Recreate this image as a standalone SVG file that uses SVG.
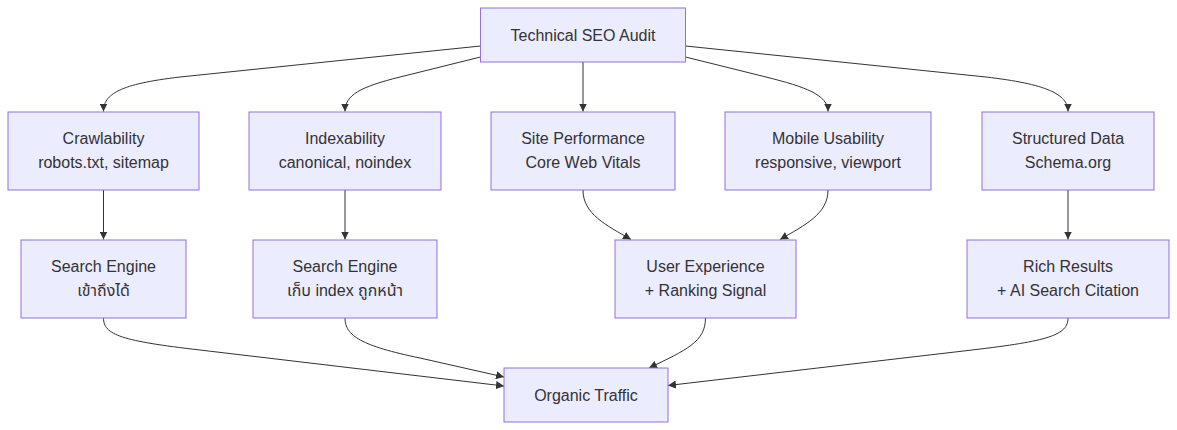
<svg xmlns="http://www.w3.org/2000/svg" width="1177" height="430" viewBox="0 0 1177 430">
<style>
.node rect{fill:#ECECFF;stroke:#9370DB;stroke-width:1}
.node text{font-family:"Liberation Sans",Arial,"Noto Sans","Noto Sans Thai",sans-serif;font-size:16px;fill:#333;text-anchor:middle}
.edges path{fill:none;stroke:#333;stroke-width:1;marker-end:url(#arrow)}
</style>
<defs>
<marker id="arrow" viewBox="0 0 10 10" refX="10" refY="5" markerWidth="8" markerHeight="8" markerUnits="userSpaceOnUse" orient="auto">
<path d="M0,0 L10,5 L0,10 z" fill="#333"/>
</marker>
</defs>
<rect width="1177" height="430" fill="#fff"/>
<g class="edges">
<path d="M480.5,46 L180,77 C120,84 103.5,94 103.5,111.5"/>
<path d="M480.5,57 L400,77 C360,87 345,95 345,111.5"/>
<path d="M583,62 L583,111.5"/>
<path d="M685.5,57 L766,77 C806,87 828,95 828,111.5"/>
<path d="M685.5,46 L986,77 C1046,84 1068,94 1068,111.5"/>
<path d="M103.5,190 L103.5,239.5"/>
<path d="M345,190 L345,239.5"/>
<path d="M583,190 C583,214 606,225 631,239.5"/>
<path d="M828,190 C828,214 805,225 780,239.5"/>
<path d="M1068,190 L1068,239.5"/>
<path d="M103.5,318 C103.5,335 122,341 200,350 L504,386"/>
<path d="M345,318 C345,336 362,346 420,358 L504,377"/>
<path d="M705.5,318 C705.5,342 686,350 649,368"/>
<path d="M1068,318 C1068,335 1049,341 972,350 L668,385.5"/>
</g>
<g id="audit" class="node"><rect x="480.5" y="8" width="205" height="54"/><text x="583" y="40.5">Technical SEO Audit</text></g>
<g id="crawl" class="node"><rect x="8" y="112" width="191" height="78"/><text x="103.5" y="144">Crawlability</text><text x="103.5" y="168">robots.txt, sitemap</text></g>
<g id="index" class="node"><rect x="249" y="112" width="192" height="78"/><text x="345" y="144">Indexability</text><text x="345" y="168">canonical, noindex</text></g>
<g id="perf" class="node"><rect x="491" y="112" width="184" height="78"/><text x="583" y="144">Site Performance</text><text x="583" y="168">Core Web Vitals</text></g>
<g id="mobile" class="node"><rect x="725" y="112" width="206" height="78"/><text x="828" y="144">Mobile Usability</text><text x="828" y="168">responsive, viewport</text></g>
<g id="structured" class="node"><rect x="982" y="112" width="172" height="78"/><text x="1068" y="144">Structured Data</text><text x="1068" y="168">Schema.org</text></g>
<g id="se1" class="node"><rect x="21" y="240" width="165" height="78"/><text x="103.5" y="272">Search Engine</text><text x="103.5" y="296">เข้าถึงได้</text></g>
<g id="se2" class="node"><rect x="253" y="240" width="184" height="78"/><text x="345" y="272">Search Engine</text><text x="345" y="296">เก็บ index ถูกหน้า</text></g>
<g id="ux" class="node"><rect x="615" y="240" width="181" height="78"/><text x="705.5" y="272">User Experience</text><text x="705.5" y="296">+ Ranking Signal</text></g>
<g id="rich" class="node"><rect x="967" y="240" width="202" height="78"/><text x="1068" y="272">Rich Results</text><text x="1068" y="296">+ AI Search Citation</text></g>
<g id="organic" class="node"><rect x="504" y="368" width="164" height="54"/><text x="586" y="400.5">Organic Traffic</text></g>
</svg>
